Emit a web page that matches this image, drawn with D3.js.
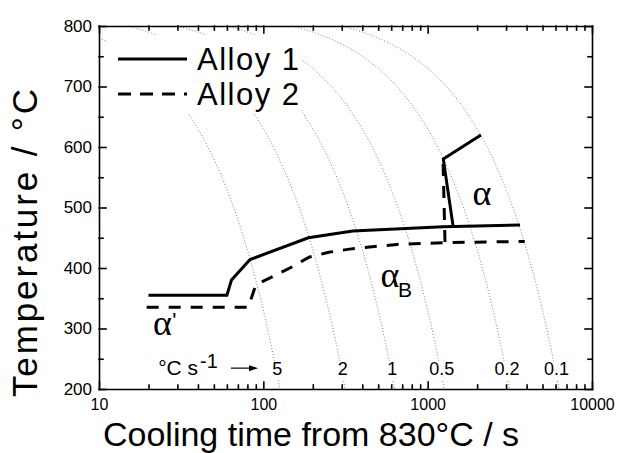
<!DOCTYPE html>
<html lang="en">
<head>
<meta charset="UTF-8">
<title>Cooling time from 830 C</title>
<script src="https://d3js.org/d3.v7.min.js"></script>
<style>
    body { margin: 0; background: #ffffff; }
    svg { display: block; font-family: "Liberation Sans", Arial, sans-serif; }
    .axis path, .axis line { stroke: #000; stroke-width: 1.6; stroke-linecap: square; }
    .axis text { fill: #000; font-family: "Liberation Sans", Arial, sans-serif; }
</style>
</head>
<body>
<svg id="chart" width="619" height="453"></svg>
<script>
    // axis ticks
    const xTicks = [10, 100, 1000, 10000];
    const yTicks = [200, 300, 400, 500, 600, 700, 800];

    // constant cooling rate guide lines (degC/s), starting from 830 degC
    const coolingRates = [5, 2, 1, 0.5, 0.2, 0.1];
    const rateLabels = ["5", "2", "1", "0.5", "0.2", "0.1"];
    const startTemp = 830;

    // Alloy 1 (solid)
    const alloy1Time = [20, 60, 64, 83, 188, 350, 1240, 3650];
    const alloy1Temp = [355, 355, 380, 414, 450, 461, 468, 471];
    const alloy1FerriteTime = [1430, 1245, 2110];
    const alloy1FerriteTemp = [468, 580, 620];

    // Alloy 2 (dashed)
    const alloy2Time = [19.5, 81, 90, 150, 190, 250, 350, 650, 1300, 3900];
    const alloy2Temp = [335, 335, 372, 402, 418, 426, 432, 439, 442, 444];
    const alloy2FerriteTime = [1275, 1240];
    const alloy2FerriteTemp = [443, 578];

    const legendNames = ["Alloy 1", "Alloy 2"];

    const W = 619, H = 453;
    const margin = { top: 26, right: 27, bottom: 64, left: 99 };
    const svg = d3.select("#chart");

    const x = d3.scaleLog().domain([10, 10000]).range([margin.left, W - margin.right]);
    const y = d3.scaleLinear().domain([200, 800]).range([H - margin.bottom, margin.top]);

    const xMinor = [];
    [10, 100, 1000].forEach(dec => { for (let k = 2; k <= 9; k++) xMinor.push(dec * k); });
    const yMinor = [250, 350, 450, 550, 650, 750];

    const line = d3.line().x(d => x(d[0])).y(d => y(d[1]));
    const zip = (a, b) => a.map((v, i) => [v, b[i]]);

    // dotted iso-cooling-rate curves
    const guides = svg.append("g");
    coolingRates.forEach(r => {
        const t0 = Math.max(10, (startTemp - 800) / r);
        const t1 = Math.min(10000, (startTemp - 200) / r);
        const pts = d3.range(0, 121).map(i => {
            const t = t0 * Math.pow(t1 / t0, i / 120);
            return [t, startTemp - r * t];
        });
        guides.append("path")
            .attr("d", line(pts))
            .attr("fill", "none")
            .attr("stroke", "#808080")
            .attr("stroke-width", 1)
            .attr("stroke-dasharray", "1,2");
    });

    // legend background hides the guide lines
    svg.append("rect")
        .attr("x", 107).attr("y", 35).attr("width", 194).attr("height", 78)
        .attr("fill", "#fff");

    // data lines
    const drawLine = (data, dashed) => svg.append("path")
        .attr("d", line(data))
        .attr("fill", "none")
        .attr("stroke", "#000")
        .attr("stroke-width", 3)
        .attr("stroke-linejoin", "miter")
        .attr("stroke-dasharray", dashed ? "12,10" : null);

    drawLine(zip(alloy2Time, alloy2Temp), true);
    drawLine(zip(alloy2FerriteTime, alloy2FerriteTemp), true);
    drawLine(zip(alloy1Time, alloy1Temp), false);
    drawLine(zip(alloy1FerriteTime, alloy1FerriteTemp), false);

    // rate labels with white boxes
    coolingRates.forEach((r, i) => {
        const g = svg.append("g");
        const t = g.append("text")
            .attr("x", x((startTemp - 200) / r) - 2.5)
            .attr("y", y(223))
            .attr("text-anchor", "middle")
            .attr("font-size", 18)
            .text(rateLabels[i]);
        const bb = t.node().getBBox();
        g.insert("rect", "text")
            .attr("x", bb.x - 1).attr("y", bb.y + 2)
            .attr("width", bb.width + 2).attr("height", bb.height - 2)
            .attr("fill", "#fff");
    });

    // axes
    const bottomAxis = d3.axisBottom(x).tickValues(xTicks).tickFormat(d3.format("d"))
        .tickSizeInner(-7).tickSizeOuter(0).tickPadding(10);
    svg.append("g").attr("class", "axis").attr("transform", `translate(0,${y(200)})`)
        .call(bottomAxis).call(g => g.selectAll("text").attr("font-size", 16));
    svg.append("g").attr("class", "axis").attr("transform", `translate(0,${y(200)})`)
        .call(d3.axisBottom(x).tickValues(xMinor).tickFormat("").tickSize(-4))
        .call(g => g.select(".domain").remove());

    svg.append("g").attr("class", "axis").attr("transform", `translate(0,${y(800)})`)
        .call(d3.axisTop(x).tickValues(xTicks).tickFormat("").tickSizeInner(-7).tickSizeOuter(0));
    svg.append("g").attr("class", "axis").attr("transform", `translate(0,${y(800)})`)
        .call(d3.axisTop(x).tickValues(xMinor).tickFormat("").tickSize(-4))
        .call(g => g.select(".domain").remove());

    svg.append("g").attr("class", "axis").attr("transform", `translate(${x(10)},0)`)
        .call(d3.axisLeft(y).tickValues(yTicks).tickSizeInner(-7).tickSizeOuter(0).tickPadding(7))
        .call(g => g.selectAll("text").attr("font-size", 17));
    svg.append("g").attr("class", "axis").attr("transform", `translate(${x(10)},0)`)
        .call(d3.axisLeft(y).tickValues(yMinor).tickFormat("").tickSize(-4))
        .call(g => g.select(".domain").remove());

    svg.append("g").attr("class", "axis").attr("transform", `translate(${x(10000)},0)`)
        .call(d3.axisRight(y).tickValues(yTicks).tickFormat("").tickSizeInner(-7).tickSizeOuter(0));
    svg.append("g").attr("class", "axis").attr("transform", `translate(${x(10000)},0)`)
        .call(d3.axisRight(y).tickValues(yMinor).tickFormat("").tickSize(-4))
        .call(g => g.select(".domain").remove());

    // axis titles
    svg.append("text")
        .attr("x", 311).attr("y", 446)
        .attr("text-anchor", "middle")
        .attr("font-size", 34)
        .text("Cooling time from 830°C / s");

    svg.append("text")
        .attr("transform", "translate(37,243) rotate(-90)")
        .attr("text-anchor", "middle")
        .attr("font-size", 35)
        .attr("textLength", 308)
        .text("Temperature / °C");

    // legend
    legendNames.forEach((name, i) => {
        const ly = 59 + i * 35;
        svg.append("line")
            .attr("x1", 118).attr("x2", 187).attr("y1", ly).attr("y2", ly)
            .attr("stroke", "#000").attr("stroke-width", 3)
            .attr("stroke-dasharray", i === 1 ? "13,9" : null);
        svg.append("text")
            .attr("x", 197).attr("y", ly + 10.5)
            .attr("font-size", 31)
            .attr("letter-spacing", 1.5)
            .text(name);
    });

    // phase annotations
    const serif = '"Liberation Serif", "Times New Roman", serif';
    const sans = '"Liberation Sans", Arial, sans-serif';
    svg.append("text")
        .attr("x", x(2142)).attr("y", y(504))
        .attr("text-anchor", "middle")
        .attr("font-family", serif).attr("font-size", 36)
        .text("α");

    svg.append("text")
        .attr("x", x(590)).attr("y", y(369))
        .attr("text-anchor", "middle")
        .attr("font-family", serif).attr("font-size", 36)
        .text("α");
    svg.append("text")
        .attr("x", x(590) + 8).attr("y", y(369) + 10)
        .attr("font-family", sans).attr("font-size", 21)
        .text("B");

    svg.append("text")
        .attr("x", x(24.3)).attr("y", y(289))
        .attr("text-anchor", "middle")
        .attr("font-family", serif).attr("font-size", 36)
        .text("α");
    svg.append("text")
        .attr("x", x(24.3) + 10).attr("y", y(289) - 7)
        .attr("font-family", sans).attr("font-size", 22)
        .text("'");

    // cooling rate unit and arrow
    const unit = svg.append("text")
        .attr("x", x(22.9)).attr("y", y(223))
        .attr("font-size", 21);
    unit.append("tspan").text("°C s");
    unit.append("tspan").attr("dy", -7).attr("dx", 2).attr("font-size", 20).text("-1");

    const ay = y(234.5), ax0 = x(63.5), ax1 = x(92.8);
    svg.append("line")
        .attr("x1", ax0).attr("x2", ax1 - 6).attr("y1", ay).attr("y2", ay)
        .attr("stroke", "#000").attr("stroke-width", 1.2);
    svg.append("path")
        .attr("d", `M${ax1},${ay} L${ax1 - 9},${ay - 3} L${ax1 - 9},${ay + 3} Z`)
        .attr("fill", "#000");
</script>
</body>
</html>
